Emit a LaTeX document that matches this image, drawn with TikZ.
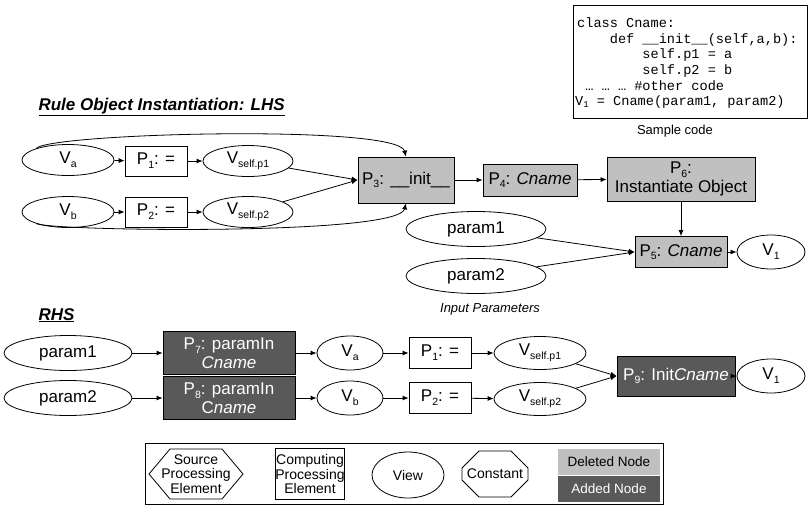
\documentclass[tikz,border=0pt]{standalone}
\usepackage{fontspec}
\setmainfont{Liberation Sans}
\setmonofont{Liberation Mono}
\usetikzlibrary{arrows.meta,shapes.geometric,shapes.misc,calc}
\definecolor{delgray}{RGB}{192,192,192}
\definecolor{addgray}{RGB}{89,89,89}
% lowered index for node labels and for the code listing
\newcommand\lowidx[1]{\raisebox{-0.22em}{\fontsize{10.5}{11}\selectfont #1}}
\newcommand\codeidx[1]{\raisebox{-0.2em}{\fontsize{9}{9}\selectfont #1}}
\begin{document}
\begin{tikzpicture}[x=1pt,y=-1pt,
  every node/.style={font=\fontsize{17}{19}\selectfont},
  view/.style={draw, ellipse, inner sep=0pt, line width=0.8pt},
  comp/.style={draw, rectangle, inner sep=0pt, align=center, line width=0.8pt},
  delnode/.style={comp, fill=delgray},
  addnode/.style={comp, fill=addgray, text=white, font=\fontsize{17}{18.5}\selectfont},
  arr/.style={-{Latex[length=6pt,width=5pt]}, line width=0.8pt},
  heading/.style={anchor=base west, font=\fontsize{17}{19}\selectfont\bfseries\itshape},
  codeline/.style={anchor=base west, inner sep=0pt, font=\fontsize{13.6}{15}\ttfamily},
  note/.style={font=\fontsize{13}{15}\selectfont},
  legendtext/.style={font=\fontsize{14}{14.5}\selectfont, align=center, inner sep=0pt}]
\useasboundingbox (0,0) rectangle (812,515);

% ---- sample code ----
\draw[line width=0.8pt] (573,5) rectangle (807,118);
\node[codeline] (c1) at (577,27)  {class Cname:};
\node[codeline] (c2) at (577,43)  {\ \ \ \ def \_\_init\_\_(self,a,b):};
\node[codeline] (c3) at (577,58)  {\ \ \ \ \ \ \ \ self.p1 = a};
\node[codeline] (c4) at (577,74)  {\ \ \ \ \ \ \ \ self.p2 = b};
\node[codeline] (c5) at (577,90)  {\ … … … \#other code};
\node[codeline] (c6) at (575,105) {V\codeidx{1} = Cname(param1, param2)};
\node[note] (cap) at (675,131) {Sample code};

% ---- LHS ----
\node[heading] (lhs) at (35,110) {\underline{Rule Object Instantiation: LHS}};

\node[view, minimum width=92, minimum height=31] (Va) at (68,160) {V\lowidx{a}};
\node[comp, minimum width=62, minimum height=30] (P1) at (156,161) {P\lowidx{1}: =};
\node[view, minimum width=90, minimum height=31] (Vsp1) at (248,161) {V\lowidx{self.p1}};
\node[view, minimum width=92, minimum height=31] (Vb) at (68,212) {V\lowidx{b}};
\node[comp, minimum width=62, minimum height=30] (P2) at (156,212) {P\lowidx{2}: =};
\node[view, minimum width=90, minimum height=31] (Vsp2) at (248,212) {V\lowidx{self.p2}};

\node[delnode, minimum width=96, minimum height=46] (P3) at (406,180) {P\lowidx{3}: \_\_init\_\_};
\node[delnode, minimum width=94, minimum height=32] (P4) at (530,180) {P\lowidx{4}: \textit{Cname}};
\node[delnode, minimum width=148, minimum height=44] (P6) at (681,179) {P\lowidx{6}:\\Instantiate Object};
\node[delnode, minimum width=92, minimum height=31] (P5) at (681,252) {P\lowidx{5}: \textit{Cname}};
\node[view, minimum width=68, minimum height=34] (V1) at (771,252) {V\lowidx{1}};
\node[view, minimum width=140, minimum height=35] (pA) at (476,229) {param1};
\node[view, minimum width=140, minimum height=35] (pB) at (476,276) {param2};
\node[note, font=\fontsize{13}{15}\selectfont\itshape] (inp) at (490,309) {Input Parameters};

\draw[arr] (Va) -- (P1);
\draw[arr] (P1) -- (Vsp1);
\draw[arr] (Vb) -- (P2);
\draw[arr] (P2) -- (Vsp2);
\draw[arr] (Vsp1) -- (P3.west);
\draw[arr] (Vsp2) -- (P3.west);
\draw[arr] (Va.160) .. controls (50,133) and (398,124) .. (P3.north);
\draw[arr] (Vb.200) .. controls (50,231) and (398,236) .. (P3.south);
\draw[arr] (P3) -- (P4);
\draw[arr] (P4) -- (P6);
\draw[arr] (P6) -- (P5);
\draw[arr] (pA) -- (P5.west);
\draw[arr] (pB) -- (P5.west);
\draw[arr] (P5) -- (V1);

% ---- RHS ----
\node[heading] (rhs) at (35,320) {\underline{RHS}};

\node[view, minimum width=128, minimum height=35] (pC) at (68,353) {param1};
\node[addnode, minimum width=132, minimum height=43] (P7) at (229,353) {P\lowidx{7}: paramIn\\\textit{Cname}};
\node[view, minimum width=66, minimum height=34] (Va2) at (350,353) {V\lowidx{a}};
\node[comp, minimum width=62, minimum height=31] (P1b) at (440,353) {P\lowidx{1}: =};
\node[view, minimum width=92, minimum height=33] (Vsp1b) at (540,353) {V\lowidx{self.p1}};
\node[view, minimum width=128, minimum height=35] (pD) at (68,398) {param2};
\node[addnode, minimum width=132, minimum height=43] (P8) at (229,398) {P\lowidx{8}: paramIn\\C\textit{name}};
\node[view, minimum width=66, minimum height=34] (Vb2) at (350,398) {V\lowidx{b}};
\node[comp, minimum width=62, minimum height=31] (P2b) at (440,398) {P\lowidx{2}: =};
\node[view, minimum width=92, minimum height=33] (Vsp2b) at (540,399) {V\lowidx{self.p2}};
\node[addnode, minimum width=118, minimum height=40] (P9) at (676,376) {P\lowidx{9}: Init\textit{Cname}};
\node[view, minimum width=68, minimum height=34] (V1b) at (771,376) {V\lowidx{1}};

\draw[arr] (pC) -- (P7);
\draw[arr] (P7) -- (Va2);
\draw[arr] (Va2) -- (P1b);
\draw[arr] (P1b) -- (Vsp1b);
\draw[arr] (pD) -- (P8);
\draw[arr] (P8) -- (Vb2);
\draw[arr] (Vb2) -- (P2b);
\draw[arr] (P2b) -- (Vsp2b);
\draw[arr] (Vsp1b) -- (P9.west);
\draw[arr] (Vsp2b) -- (P9.west);
\draw[arr] (P9) -- (V1b);

% ---- legend ----
\draw[line width=0.8pt] (145,443) rectangle (663,504);
\node[legendtext] (src) at (196,474) {Source\\Processing\\Element};
\draw[line width=0.8pt] ($(src)+(-47,0)$) -- ($(src)+(-26,-25)$) -- ($(src)+(26,-25)$)
  -- ($(src)+(47,0)$) -- ($(src)+(26,25)$) -- ($(src)+(-26,25)$) -- cycle;
\node[comp, legendtext, draw, minimum width=66, minimum height=51] (cpe) at (310,474) {Computing\\Processing\\Element};
\node[view, legendtext, minimum width=72, minimum height=46] (vw) at (408,475) {View};
\node[legendtext, draw, line width=0.8pt, chamfered rectangle, chamfered rectangle xsep=12pt, chamfered rectangle ysep=12pt,
  minimum width=66, minimum height=46] (cst) at (495,474) {Constant};
\node[legendtext, font=\fontsize{13.5}{15}\selectfont, fill=delgray, minimum width=102, minimum height=26] (dn) at (609,462) {Deleted Node};
\node[legendtext, font=\fontsize{13.5}{15}\selectfont, fill=addgray, text=white, minimum width=102, minimum height=26] (an) at (609,489) {Added Node};
\end{tikzpicture}
\end{document}
